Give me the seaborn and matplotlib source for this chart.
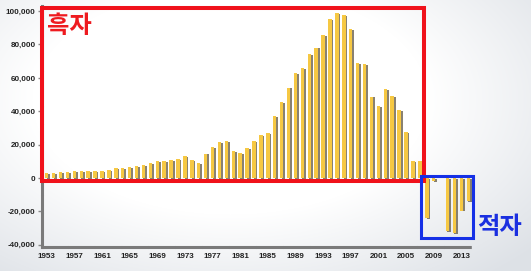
import numpy as np
import pandas as pd
import matplotlib
matplotlib.use("Agg")
import matplotlib.pyplot as plt
import seaborn as sns
from matplotlib import patheffects as pe
from matplotlib.patches import Rectangle
from matplotlib.ticker import FuncFormatter

years = [1953, 1954, 1955, 1956, 1957, 1958, 1959, 1960, 1961, 1962,
         1963, 1964, 1965, 1966, 1967, 1968, 1969, 1970, 1971, 1972,
         1973, 1974, 1975, 1976, 1977, 1978, 1979, 1980, 1981, 1982,
         1983, 1984, 1985, 1986, 1987, 1988, 1989, 1990, 1991, 1992,
         1993, 1994, 1995, 1996, 1997, 1998, 1999, 2000, 2001, 2002,
         2003, 2004, 2005, 2006, 2007, 2008, 2009, 2010, 2011, 2012,
         2013, 2014]
balance = [3000, 3000, 3600, 3400, 4000, 4400, 4400, 4400, 4400, 4600,
           6000, 6000, 6800, 7400, 8000, 9000, 10000, 10400, 11000, 11400,
           13300, 10800, 9000, 14700, 18300, 21300, 22300, 16000, 15000, 18000,
           22100, 25700, 26900, 37300, 45600, 54200, 62700, 66100, 74100, 78100,
           85700, 95000, 99000, 97600, 89000, 68700, 68500, 48800, 43200, 53200,
           49200, 40800, 27300, 10000, 10000, -24100, -1600, 0, -32000, -33000,
           -19500, -14000]
tick_years = [1953, 1957, 1961, 1965, 1969, 1973, 1977, 1981, 1985, 1989,
              1993, 1997, 2001, 2005, 2009, 2013]
y_ticks = [-40000, -20000, 0, 20000, 40000, 60000, 80000, 100000]
surplus_label = "흑자"
deficit_label = "적자"

sns.set_theme(style="white")
plt.rcParams["font.family"] = ["Liberation Sans", "Noto Sans CJK KR", "DejaVu Sans"]

W, H = 531, 271
fig = plt.figure(figsize=(W / 100, H / 100), dpi=100)

# soft background gradient
bg = fig.add_axes([0, 0, 1, 1], zorder=-10)
yy, xx = np.mgrid[0:H, 0:W]
d = np.sqrt(((xx - 230) / 330.0) ** 2 + ((yy - 100) / 190.0) ** 2)
t = np.clip((d - 0.6) / 0.6, 0, 1)
c0 = np.array([1.0, 1.0, 1.0])
c1 = np.array([0.87, 0.885, 0.905])
img = c0 * (1 - t[..., None]) + c1 * t[..., None]
bg.imshow(img, aspect="auto", extent=[0, 1, 0, 1])
bg.axis("off")

ax = fig.add_axes([0.0789, 0.0904, 0.8094, 0.889])
ax.set_facecolor("none")

df = pd.DataFrame({"year": years, "balance": balance})
sns.barplot(data=df, x="year", y="balance", color="#f6c843", width=0.5,
            saturation=1, linewidth=0, ax=ax, zorder=3)
for p in ax.patches:
    p.set_path_effects([pe.SimplePatchShadow(offset=(1.2, -0.6),
                                             shadow_rgbFace="#746b58", alpha=0.85),
                        pe.Normal()])

ax.set_xlim(-0.7, 61.5)
ax.set_ylim(-41000, 103300)
ax.set_yticks(y_ticks)
ax.yaxis.set_major_formatter(FuncFormatter(lambda v, p: f"{int(v):,}"))
idx = [years.index(y) for y in tick_years]
ax.set_xticks(idx)
ax.set_xticklabels([str(y) for y in tick_years])
ax.set_xlabel("")
ax.set_ylabel("")

ax.tick_params(axis="y", direction="out", length=3, width=1, color="#888888",
               labelsize=5.8, pad=1.5, labelcolor="#222222", left=True)
ax.tick_params(axis="x", length=0, labelsize=5.8, pad=5, labelcolor="#222222")
for lab in ax.get_xticklabels() + ax.get_yticklabels():
    lab.set_fontweight("bold")

for s in ["top", "right"]:
    ax.spines[s].set_visible(False)
ax.spines["bottom"].set_color("#7a7a7a")
ax.spines["bottom"].set_linewidth(2.2)
ax.spines["bottom"].set_linestyle((0, (8, 0.8)))
ax.spines["left"].set_color("#7a7a7a")
ax.spines["left"].set_linewidth(2.2)
ax.spines["left"].set_linestyle((0, (5, 0.8)))

ax.add_patch(Rectangle((-0.7, -1800), 55.3, 103600, fill=False,
                       edgecolor="#f0121b", linewidth=2.9, clip_on=False, zorder=6))
ax.add_patch(Rectangle((54.2, -35900), 7.5, 37100, fill=False,
                       edgecolor="#1530e6", linewidth=2.2, clip_on=False, zorder=6))

fig.text(47 / W, 1 - 14 / H, surplus_label, color="#ee1a1f", fontsize=17.5,
         fontweight="bold", family=["Noto Sans CJK KR"], ha="left", va="top")
fig.text(477 / W, 1 - 215 / H, deficit_label, color="#1a2fe0", fontsize=17.5,
         fontweight="bold", family=["Noto Sans CJK KR"], ha="left", va="top")

fig.savefig("out.png", dpi=100)
